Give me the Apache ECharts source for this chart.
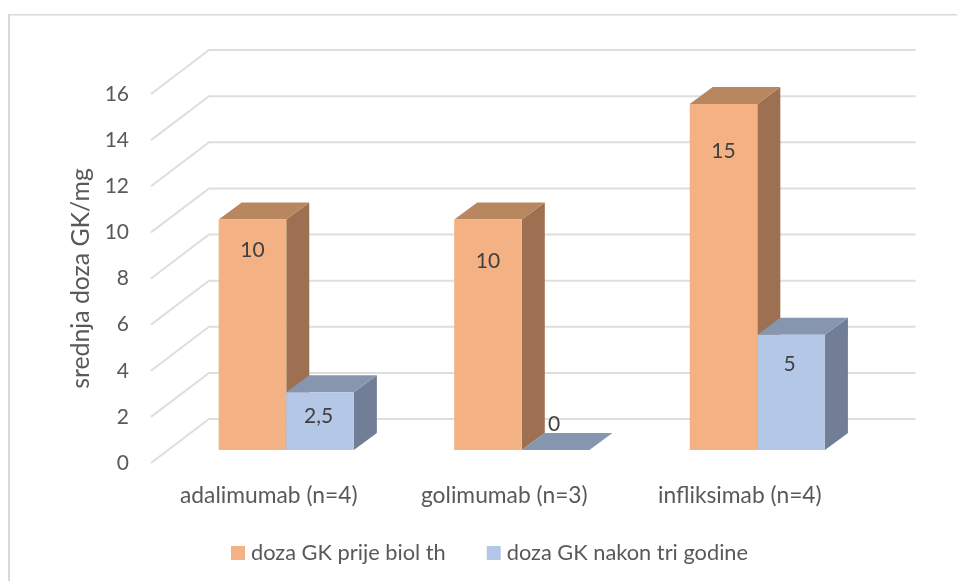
<!DOCTYPE html>
<html>
<head>
<meta charset="utf-8">
<style>
  html, body { margin: 0; padding: 0; background: #fff; }
  #main { width: 957px; height: 581px; }
</style>
<script src="https://cdn.jsdelivr.net/npm/echarts@6/dist/echarts.min.js"></script>
</head>
<body>
<div id="main"></div>
<script>
const categories = ['adalimumab (n=4)', 'golimumab (n=3)', 'infliksimab (n=4)']
const prijeValues = [10, 10, 15]
const nakonValues = [2.5, 0, 5]
const gridValues = [0, 2, 4, 6, 8, 10, 12, 14, 16]

// excel 3D look: offsets between front plane, bar front and back wall
const wallDepth = { x: 58, y: -44 }
const barShift = { x: 17.5, y: -13 }
const barDepth = { x: 23, y: -17 }
const barShare = 0.287
// manually moved labels in the original: pixels from bar top
const prijeLabelDy = [31, 42, 47]
const nakonLabelDy = [24, -26, 30]
const nakonLabelDx = -1.5

const chart = echarts.init(document.getElementById('main'))

function poly (points, fill) {
  return { type: 'polygon', shape: { points }, style: { fill } }
}

function barRenderer (side, colors, labelDy, labelDx) {
  return function (params, api) {
    const cat = api.value(0)
    const value = api.value(1)
    const w = api.size([1, 0])[0] * barShare
    const base = api.coord([cat, 0])
    const top = api.coord([cat, value])
    const x0 = base[0] + barShift.x + (side < 0 ? -w : 0)
    const x1 = x0 + w
    const yb = base[1] + barShift.y
    const yt = top[1] + barShift.y
    const dx = barDepth.x
    const dy = barDepth.y
    const children = [
      poly([[x1, yb], [x1 + dx, yb + dy], [x1 + dx, yt + dy], [x1, yt]], colors.side),
      poly([[x0, yt], [x0 + dx, yt + dy], [x1 + dx, yt + dy], [x1, yt]], colors.top),
      poly([[x0, yb], [x1, yb], [x1, yt], [x0, yt]], colors.front),
      {
        type: 'text',
        style: {
          text: String(value).replace('.', ','),
          x: (x0 + x1) / 2 + labelDx,
          y: yt + labelDy[params.dataIndex],
          align: 'center',
          verticalAlign: 'middle',
          font: '21px Lato',
          fill: '#404040'
        }
      }
    ]
    return { type: 'group', children }
  }
}

function gridRenderer (params, api) {
  const p = api.coord([0, api.value(0)])
  const size = api.size([1, 0])[0] * categories.length
  const x0 = p[0] - api.size([1, 0])[0] / 2
  return {
    type: 'polyline',
    shape: {
      points: [[x0, p[1]], [x0 + wallDepth.x, p[1] + wallDepth.y], [x0 + wallDepth.x + size, p[1] + wallDepth.y]]
    },
    style: { fill: 'none', stroke: '#dedede', lineWidth: 2 }
  }
}

const option = {
  animation: false,
  backgroundColor: '#fff',
  textStyle: { fontFamily: 'Lato' },
  graphic: [
    { type: 'rect', shape: { x: 8, y: 14, width: 949, height: 1.5 }, style: { fill: '#d9d9d9' }, silent: true },
    { type: 'rect', shape: { x: 8, y: 14, width: 2, height: 567 }, style: { fill: '#d9d9d9' }, silent: true }
  ],
  grid: { left: 151, top: 94, width: 706.6, height: 369 },
  legend: {
    data: [
      { name: 'doza GK prije biol th', icon: 'rect' },
      { name: 'doza GK nakon tri godine', icon: 'rect' }
    ],
    left: 226,
    top: 537,
    itemWidth: 14,
    itemHeight: 14,
    itemGap: 41,
    textStyle: { fontSize: 21.8, color: '#595959', fontFamily: 'Lato', padding: [0, 0, 0, 1] }
  },
  xAxis: {
    type: 'category',
    data: categories,
    axisLine: { show: false },
    axisTick: { show: false },
    axisLabel: { fontSize: 22.8, color: '#595959', fontFamily: 'Lato', margin: 21 }
  },
  yAxis: {
    type: 'value',
    min: 0,
    max: 16,
    interval: 2,
    name: 'srednja doza GK/mg',
    nameLocation: 'middle',
    nameGap: 56,
    nameTextStyle: { fontSize: 24.8, color: '#595959', fontFamily: 'Lato' },
    axisLine: { show: false },
    axisTick: { show: false },
    splitLine: { show: false },
    axisLabel: { fontSize: 21, color: '#595959', fontFamily: 'Lato', margin: 22 }
  },
  series: [
    {
      name: 'grid',
      type: 'custom',
      silent: true,
      clip: false,
      z: 1,
      data: gridValues.map(v => [v]),
      encode: { y: 0 },
      renderItem: gridRenderer
    },
    {
      name: 'doza GK prije biol th',
      type: 'custom',
      clip: false,
      z: 2,
      itemStyle: { color: '#f4b183' },
      data: prijeValues.map((v, i) => [i, v]),
      encode: { x: 0, y: 1 },
      renderItem: barRenderer(-1, { front: '#f4b183', top: '#b9875f', side: '#9c7050' }, prijeLabelDy, 0)
    },
    {
      name: 'doza GK nakon tri godine',
      type: 'custom',
      clip: false,
      z: 3,
      itemStyle: { color: '#b4c7e7' },
      data: nakonValues.map((v, i) => [i, v]),
      encode: { x: 0, y: 1 },
      renderItem: barRenderer(1, { front: '#b4c7e7', top: '#8796b0', side: '#717e96' }, nakonLabelDy, nakonLabelDx)
    }
  ]
}

chart.setOption(option)
</script>
</body>
</html>
